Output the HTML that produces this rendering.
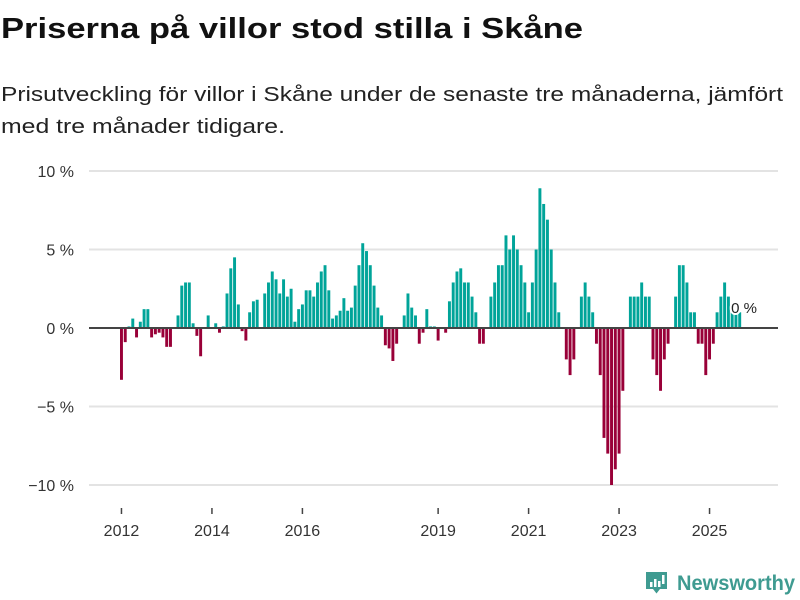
<!DOCTYPE html>
<html><head><meta charset="utf-8"><style>
html,body{margin:0;padding:0;background:#fff;}
svg{display:block;font-family:"Liberation Sans",sans-serif;}
</style></head><body>
<svg width="800" height="600" viewBox="0 0 800 600" xmlns="http://www.w3.org/2000/svg">
<text x="1" y="38" font-size="29" font-weight="bold" fill="#111" textLength="582" lengthAdjust="spacingAndGlyphs">Priserna på villor stod stilla i Skåne</text>
<text x="1" y="101" font-size="20" fill="#222" textLength="782" lengthAdjust="spacingAndGlyphs">Prisutveckling för villor i Skåne under de senaste tre månaderna, jämfört</text>
<text x="1" y="133" font-size="20" fill="#222" textLength="284" lengthAdjust="spacingAndGlyphs">med tre månader tidigare.</text>
<g id="grid"></g>
<g id="bars"></g>
<g id="xaxis"></g>
<line x1="89" x2="778" y1="328" y2="328" stroke="#444" stroke-width="2"/>
<g>
<text x="744" y="313" font-size="15" fill="#222" text-anchor="middle" stroke="#fff" stroke-width="4" stroke-linejoin="round" paint-order="stroke">0 %</text>
</g>
<g transform="translate(646,572)">
<path d="M0 0h21v17h-7l-3.5 4.5l-3.5-4.5h-7z" fill="#3f9b91"/>
<rect x="4" y="10" width="2.5" height="5" fill="#fff"/>
<rect x="8" y="7" width="2.5" height="8" fill="#fff"/>
<rect x="12" y="9" width="2.5" height="6" fill="#fff"/>
<rect x="16" y="3" width="2.5" height="9" fill="#fff"/>
<text x="31" y="18" font-size="21" font-weight="bold" fill="#3f9b91" textLength="118" lengthAdjust="spacingAndGlyphs">Newsworthy</text>
</g>
</svg>
<script>
const values = [
-3.3,-0.9,0.1,0.6,-0.6,0.4,1.2,1.2,-0.6,-0.4,-0.3,-0.6,-1.2,-1.2,0,0.8,2.7,2.9,2.9,0.3,-0.5,-1.8,0,0.8,0,0.3,-0.3,0.1,2.2,3.8,4.5,1.5,-0.2,-0.8,1.0,1.7,1.8,0,2.2,2.9,3.6,3.1,
2.2,3.1,2.0,2.5,0.4,1.2,1.5,2.4,2.4,2.0,2.9,3.6,4.0,2.4,0.6,0.8,1.1,1.9,1.1,1.3,2.7,4.0,5.4,4.9,4.0,2.7,1.3,0.8,-1.1,-1.3,-2.1,-1.0,0,0.8,2.2,1.3,0.8,-1.0,-0.3,1.2,0.1,0.1,
-0.8,0,-0.3,1.7,2.9,3.6,3.8,2.9,2.9,2.0,1.0,-1.0,-1.0,0,2.0,2.9,4.0,4.0,5.9,5.0,5.9,5.0,4.0,2.9,1.0,2.9,5.0,8.9,7.9,6.9,5.0,2.9,1.0,0,-2,-3,-2,0,
2.0,2.9,2.0,1.0,-1.0,-3.0,-7,-8,-10,-9,-8,-4,0,2,2,2,2.9,2,2,-2,-3,-4,-2,-1,0,2,4,4,2.9,1,1,-1,-1,-3,-2,-1,1,2,2.9,2,1,1,1
];
const startYear = 2012;
const yTicks = [10,5,0,-5,-10];
const yTickLabels = ["10 %","5 %","0 %","−5 %","−10 %"];
const xTickYears = [2012,2014,2016,2019,2021,2023,2025];

const NS="http://www.w3.org/2000/svg";
const x0=120, x1=742, y0=328, pxPerUnit=15.7;
const step=(x1-x0)/values.length;
const bw=step*0.78;
function xScale(i){return x0+i*step;}
function yScale(v){return y0-v*pxPerUnit;}
function mk(tag,attrs,parent){const e=document.createElementNS(NS,tag);for(const k in attrs)e.setAttribute(k,attrs[k]);parent.appendChild(e);return e;}

const grid=document.getElementById('grid');
yTicks.forEach((t,i)=>{
  const y=yScale(t);
  if(t!==0){const l=mk('line',{x1:89,x2:778,y1:y,y2:y,stroke:'#e3e3e3','stroke-width':2},grid);
  
  }
  const tx=mk('text',{x:74,y:y+6,'font-size':16,fill:'#333','text-anchor':'end'},grid);
  tx.textContent=yTickLabels[i];
  
  
});

const bars=document.getElementById('bars');
values.forEach((v,i)=>{
  if(v===0)return;
  const y=Math.min(yScale(v),y0), h=Math.abs(yScale(v)-y0);
  const r=mk('rect',{x:xScale(i),y:y,width:bw,height:h,fill:v>0?'#00a499':'#990038'},bars);
  
  
});

const xa=document.getElementById('xaxis');
xTickYears.forEach(yr=>{
  const i=(yr-startYear)*12;
  const x=xScale(i)+bw/2;
  const l=mk('line',{x1:x,x2:x,y1:508,y2:514,stroke:'#444','stroke-width':1.5},xa);
  
  
  const t=mk('text',{x:x,y:536,'font-size':16,fill:'#333','text-anchor':'middle'},xa);
  t.textContent=String(yr);
  
  
});
</script>
</body></html>
